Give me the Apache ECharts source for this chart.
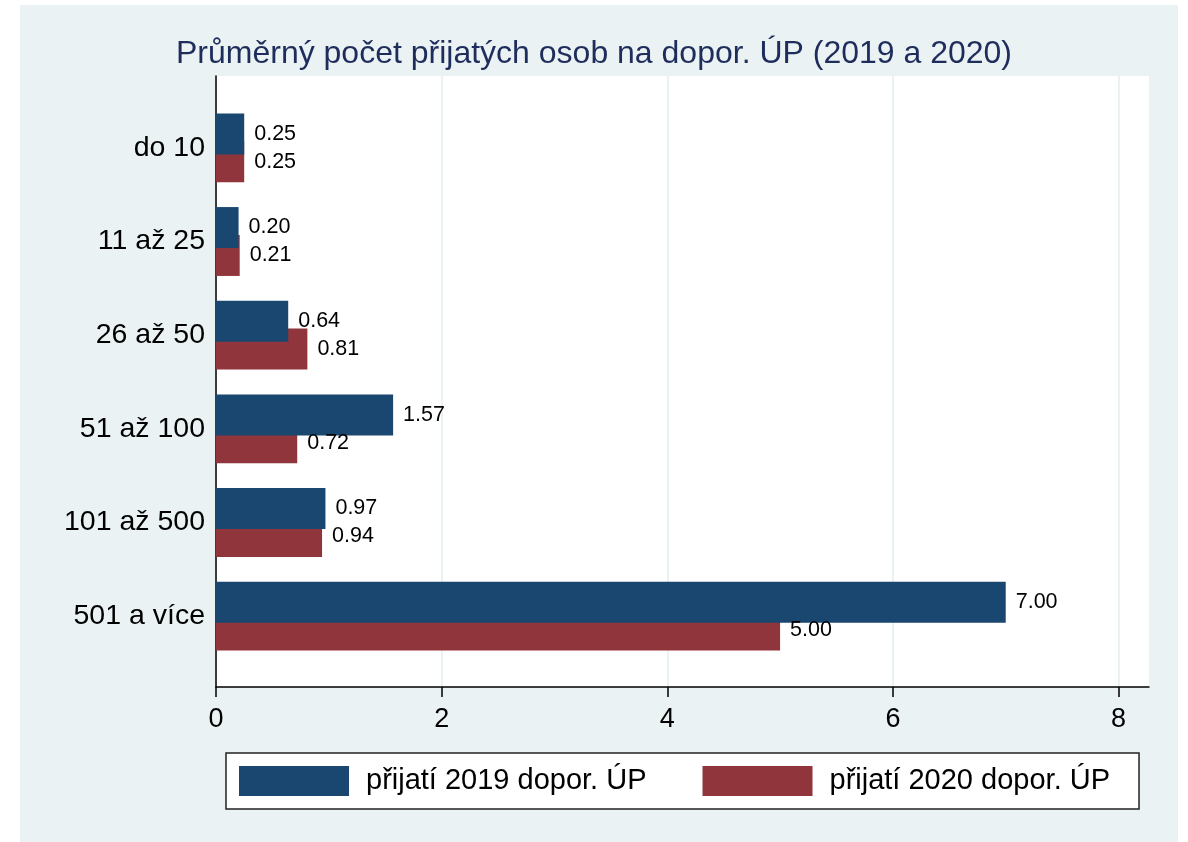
<!DOCTYPE html>
<html>
<head>
<meta charset="utf-8">
<script src="https://cdn.jsdelivr.net/npm/echarts@6/dist/echarts.min.js"></script>
<style>
  html, body { margin: 0; padding: 0; background: #fff; }
  #bg { position: absolute; left: 20px; top: 5px; width: 1158px; height: 837px; background: #eaf2f3; }
  #chart { position: absolute; left: 0; top: 0; width: 1188px; height: 842px; }
</style>
</head>
<body>
<div id="bg"></div>
<div id="chart"></div>
<script>
// kategorie podle velikosti
const categories = ['do 10', '11 až 25', '26 až 50', '51 až 100', '101 až 500', '501 a více'];
const prijati2019 = [0.25, 0.20, 0.64, 1.57, 0.97, 7.00];
const prijati2020 = [0.25, 0.21, 0.81, 0.72, 0.94, 5.00];
const xTicks = [0, 2, 4, 6, 8];

const font = '"Liberation Sans", Arial, Helvetica, sans-serif';
const myChart = echarts.init(document.getElementById('chart'));

const barLabel = {
  show: true,
  position: 'right',
  distance: 10,
  fontFamily: font,
  fontSize: 21.5,
  color: '#000',
  padding: [3, 0, 0, 0],
  formatter: p => p.value.toFixed(2)
};

// popisky hodnot jdou do vlastni vrstvy, aby je nezakryl modry sloupec
function bars(name, data, color, yIdx, z, labelsOnly) {
  return {
    name: name,
    type: 'bar',
    xAxisIndex: 1,
    yAxisIndex: yIdx,
    barWidth: 41,
    barGap: '-32%',
    z: z,
    silent: labelsOnly,
    itemStyle: { color: labelsOnly ? 'rgba(0,0,0,0)' : color },
    label: labelsOnly ? barLabel : { show: false },
    data: data
  };
}

const option = {
  animation: false,
  title: {
    text: 'Průměrný počet přijatých osob na dopor. ÚP (2019 a 2020)',
    left: 'center',
    top: 33,
    textStyle: { fontFamily: font, fontSize: 32, fontWeight: 'normal', color: '#1e2d5c' }
  },
  legend: {
    left: 226,
    top: 753,
    padding: [12, 29, 12, 13],
    itemWidth: 110,
    itemHeight: 30,
    itemGap: 56,
    icon: 'rect',
    selectedMode: false,
    backgroundColor: '#fff',
    borderColor: '#222',
    borderWidth: 1.5,
    textStyle: { fontFamily: font, fontSize: 29, lineHeight: 30, color: '#000', padding: [2, 0, 0, 12] },
    data: ['přijatí 2019 dopor. ÚP', 'přijatí 2020 dopor. ÚP']
  },
  grid: [
    { left: 216, right: 39, top: 76, bottom: 155, show: true, backgroundColor: '#fff', borderWidth: 0 },
    { left: 216, right: 39, top: 101, bottom: 179 }
  ],
  xAxis: [
    {
      gridIndex: 0,
      type: 'value',
      min: 0,
      max: 8.27,
      interval: 2,
      axisLine: { show: true, lineStyle: { color: '#000', width: 1.5 } },
      axisTick: { show: true, length: 10, customValues: xTicks, lineStyle: { color: '#000', width: 1.5 } },
      axisLabel: {
        customValues: xTicks,
        fontFamily: font, fontSize: 27, color: '#000', margin: 19
      },
      splitLine: { show: true, lineStyle: { color: '#eaf2f3', width: 2 } }
    },
    { gridIndex: 1, type: 'value', min: 0, max: 8.27, show: false }
  ],
  yAxis: [
    {
      gridIndex: 0,
      type: 'value',
      min: 0,
      max: 1,
      axisLine: { show: true, lineStyle: { color: '#000', width: 1.5 } },
      axisTick: { show: false },
      axisLabel: { show: false },
      splitLine: { show: false }
    },
    {
      gridIndex: 1,
      type: 'category',
      inverse: true,
      data: categories,
      axisLine: { show: false },
      axisTick: { show: false },
      axisLabel: { fontFamily: font, fontSize: 28.5, color: '#000', margin: 11, padding: [6, 0, 0, 0] }
    },
    {
      gridIndex: 1,
      type: 'category',
      inverse: true,
      data: categories,
      show: false
    }
  ],
  series: [
    bars('přijatí 2019 dopor. ÚP', prijati2019, '#1a476f', 1, 3, false),
    bars('přijatí 2020 dopor. ÚP', prijati2020, '#90353b', 1, 2, false),
    bars('popisky 2019', prijati2019, null, 2, 10, true),
    bars('popisky 2020', prijati2020, null, 2, 10, true)
  ]
};

myChart.setOption(option);
</script>
</body>
</html>
